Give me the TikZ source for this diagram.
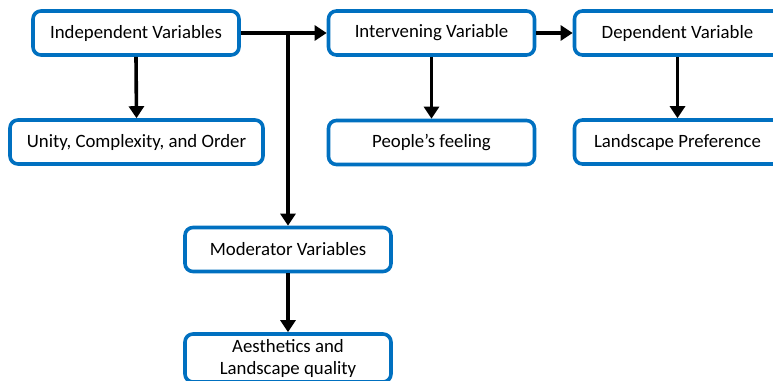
\documentclass[tikz,border=0pt]{standalone}
\usepackage{fontspec}
\setmainfont{Carlito}
\usetikzlibrary{arrows.meta}
\definecolor{boxblue}{HTML}{0070C0}
\begin{document}
\begin{tikzpicture}[x=1pt,y=-1pt,
  varbox/.style={draw=boxblue,line width=3.6pt,rounded corners=8pt,fill=white,
    minimum width=206pt,minimum height=44pt,inner sep=2pt,align=center,
    font=\fontsize{18.8}{22}\selectfont},
  link/.style={line width=3.6pt,-{Triangle[length=12pt,width=15pt]}},
  trunk/.style={line width=3.6pt}]
\useasboundingbox (0,0) rectangle (773,380);
\clip (0,0) rectangle (773,380);
% top row
\node[varbox] (indep) at (136,33) {Independent Variables};
\node[varbox] (interv) at (431.5,33) {Intervening Variable};
\node[varbox] (dep) at (677.5,33) {Dependent Variable};
% second row
\node[varbox,minimum width=253pt] (unity) at (136.5,142) {Unity, Complexity, and Order};
\node[varbox] (feel) at (431.5,142.5) {People’s feeling};
\node[varbox] (pref) at (677.5,142) {Landscape Preference};
% moderator branch
\node[varbox] (moder) at (288,249.5) {Moderator Variables};
\node[varbox,minimum height=48pt] (aest) at (288,358) {Aesthetics and\\Landscape quality};
\coordinate (split) at (288,33);
\draw[trunk] (indep.east) -- (split);
\draw[link] (split) -- (interv.west);
\draw[link] (split) -- (moder.north);
\draw[link] (indep.south) -- (unity.north);
\draw[link] (interv.south) -- (feel.north);
\draw[link] (interv.east) -- (dep.west);
\draw[link] (dep.south) -- (pref.north);
\draw[link] (moder.south) -- (aest.north);
\end{tikzpicture}
\end{document}
